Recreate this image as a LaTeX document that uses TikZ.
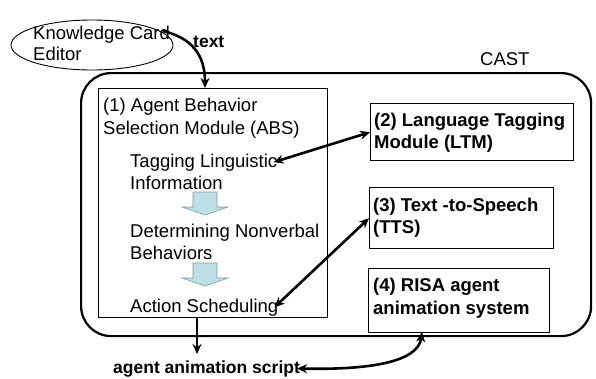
\documentclass[tikz,border=0pt]{standalone}
\usepackage{fontspec}
\setmainfont{Liberation Sans}
\usetikzlibrary{arrows.meta,shapes.geometric}
\definecolor{arrowfill}{HTML}{BCE0E6}
\definecolor{arrowline}{HTML}{7E9AA2}
\begin{document}
\begin{tikzpicture}[x=1pt,y=-1pt,
  lbl/.style={inner sep=0pt, anchor=base west, font=\fontsize{18.5}{22}\selectfont},
  blbl/.style={inner sep=0pt, anchor=base west, font=\fontsize{18.5}{22}\selectfont\bfseries},
  slbl/.style={inner sep=0pt, anchor=base west, font=\fontsize{17.5}{22}\selectfont\bfseries},
  modbox/.style={draw, line width=1.4pt, inner sep=0pt, anchor=north west},
  conn/.style={line width=2.6pt, -{Stealth[length=10pt,width=9pt]}},
  dconn/.style={line width=2.6pt, {Stealth[length=10pt,width=9pt]}-{Stealth[length=10pt,width=9pt]}},
  blockarrow/.style={fill=arrowfill, draw=arrowline, line width=0.6pt}]
\useasboundingbox (0,0) rectangle (596,378);
% containers
\node[draw, line width=2.2pt, rounded corners=30pt, inner sep=0pt, anchor=north west,
      minimum width=510pt, minimum height=263pt] (cast) at (80,72) {};
\node[draw, line width=0.9pt, inner sep=0pt, anchor=north west,
      minimum width=229pt, minimum height=229pt, fill=white] (abs) at (98,88) {};
\node[draw, ellipse, line width=0.9pt, minimum width=162pt, minimum height=50pt, fill=white] (kce) at (92,45) {};
\node[modbox, minimum width=203pt, minimum height=57pt] (ltm) at (370,103) {};
\node[modbox, minimum width=184pt, minimum height=61pt] (tts) at (369,187) {};
\node[modbox, minimum width=181pt, minimum height=64pt] (risa) at (368,268) {};
% texts
\node[lbl] (kc1) at (33,39) {Knowledge Card};
\node[lbl] (kc2) at (33,60) {Editor};
\node[slbl] (txt) at (193,47) {text};
\node[lbl] (castl) at (480,65) {CAST};
\node[lbl] (abs1) at (103,111) {(1) Agent Behavior};
\node[lbl] (abs2) at (103,134) {Selection Module (ABS)};
\node[lbl] (tag1) at (130,167) {Tagging Linguistic};
\node[lbl] (tag2) at (130,189) {Information};
\node[lbl] (det1) at (130,237) {Determining Nonverbal};
\node[lbl] (det2) at (130,259) {Behaviors};
\node[lbl] (act) at (130,312) {Action Scheduling};
\node[blbl] (ltm1) at (374,126) {(2) Language Tagging};
\node[blbl] (ltm2) at (374,148) {Module (LTM)};
\node[blbl] (tts1) at (373,211) {(3) Text -to-Speech};
\node[blbl] (tts2) at (373,233) {(TTS)};
\node[blbl] (risa1) at (373,291) {(4) RISA agent};
\node[blbl] (risa2) at (373,314) {animation system};
\node[slbl] (scr) at (113,373) {agent animation script};
% block arrows
\filldraw[blockarrow] (193,192) -- (217,192) -- (217,207) -- (228,207) -- (205,215) -- (182,207) -- (193,207) -- cycle;
\filldraw[blockarrow] (193,263) -- (217,263) -- (217,278) -- (228,278) -- (205,286) -- (182,278) -- (193,278) -- cycle;
% coordinates
\coordinate (kcend) at (163,31);
\coordinate (absin) at (205,88);
\coordinate (absout) at (197,317);
\coordinate (scrin) at (197,354);
\coordinate (risain) at (422,332);
% connectors
\draw[conn] (kcend) .. controls (192,38) and (205,55) .. (absin);
\draw[dconn] ([xshift=-4pt]tag1.east) -- (ltm.west);
\draw[dconn] ([xshift=-4pt]act.east) -- (tts.west);
\draw[conn] (absout) -- (scrin);
\draw[dconn] ([xshift=-3pt]scr.east) .. controls (370,370) and (418,362) .. (risain);
\end{tikzpicture}
\end{document}
